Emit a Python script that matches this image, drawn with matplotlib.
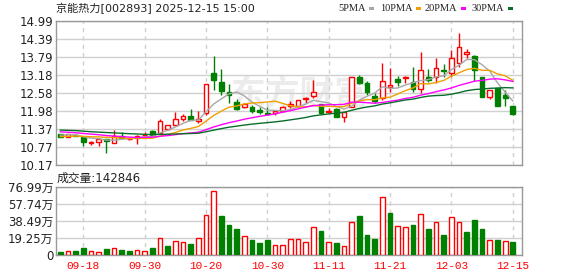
import matplotlib
matplotlib.use('Agg')
import matplotlib.pyplot as plt
from matplotlib.patches import Rectangle
import numpy as np
import pandas as pd

plt.rcParams['font.family'] = ['DejaVu Sans', 'Noto Sans CJK SC']

# 交易日 (2025-09-15 ~ 2025-12-15)
dates = ["09-15", "09-16", "09-17", "09-18", "09-19", "09-22", "09-23", "09-24", "09-25", "09-26",
         "09-29", "09-30", "10-09", "10-10", "10-13", "10-14", "10-15", "10-16", "10-17", "10-20",
         "10-21", "10-22", "10-23", "10-24", "10-27", "10-28", "10-29", "10-30", "10-31", "11-03",
         "11-04", "11-05", "11-06", "11-07", "11-10", "11-11", "11-12", "11-13", "11-14", "11-17",
         "11-18", "11-19", "11-20", "11-21", "11-24", "11-25", "11-26", "11-27", "11-28", "12-01",
         "12-02", "12-03", "12-04", "12-05", "12-08", "12-09", "12-10", "12-11", "12-12", "12-15"]
tick_dates = ["09-18", "09-30", "10-20", "10-30", "11-11", "11-21", "12-03", "12-15"]

opens = [11.21, 11.12, 11.18, 11.12, 10.90, 10.93, 11.03, 10.90, 11.13, 11.03,
         11.06, 11.17, 11.32, 11.23, 11.38, 11.52, 11.72, 11.80, 11.65, 11.92,
         13.24, 12.94, 12.61, 12.29, 12.12, 12.12, 12.01, 11.92, 11.90, 11.99,
         12.15, 12.14, 12.37, 12.47, 12.21, 11.95, 12.05, 11.79, 12.12, 13.12,
         12.93, 12.48, 12.40, 12.77, 13.04, 13.07, 12.94, 12.70, 13.13, 13.13,
         13.34, 13.24, 13.57, 13.87, 13.82, 13.10, 12.46, 12.74, 12.51, 12.14]
highs = [11.22, 11.21, 11.20, 11.15, 10.98, 11.04, 11.04, 11.34, 11.29, 11.10,
         11.16, 11.29, 11.33, 11.70, 11.52, 11.96, 11.87, 12.03, 11.99, 12.87,
         13.82, 13.38, 12.87, 12.37, 12.26, 12.18, 12.12, 12.12, 12.01, 12.13,
         12.32, 12.36, 12.46, 13.01, 12.22, 12.07, 12.08, 11.94, 13.12, 13.18,
         12.97, 12.59, 13.60, 13.43, 13.15, 13.16, 13.46, 13.96, 13.40, 13.75,
         13.55, 14.02, 14.60, 14.04, 13.85, 13.11, 12.69, 12.75, 12.68, 12.15]
lows = [11.11, 11.11, 11.13, 10.82, 10.84, 10.82, 10.58, 10.89, 11.06, 11.00,
        10.86, 11.10, 11.16, 11.21, 11.34, 11.50, 11.63, 11.67, 11.56, 11.84,
        12.68, 12.51, 12.23, 12.01, 12.07, 11.92, 11.88, 11.84, 11.84, 11.97,
        12.07, 12.12, 12.26, 12.40, 11.87, 11.90, 11.78, 11.62, 12.10, 12.88,
        12.51, 12.26, 12.35, 12.63, 12.80, 12.92, 12.63, 12.59, 12.94, 12.90,
        13.13, 13.10, 13.44, 13.74, 12.98, 12.45, 12.39, 12.16, 12.15, 11.84]
closes = [11.12, 11.20, 11.15, 10.93, 10.95, 11.03, 10.96, 11.14, 11.07, 11.05,
          11.15, 11.19, 11.18, 11.64, 11.50, 11.70, 11.80, 11.68, 11.70, 12.87,
          13.01, 12.66, 12.51, 12.03, 12.20, 11.98, 11.94, 11.89, 11.98, 12.12,
          12.20, 12.35, 12.40, 12.60, 11.90, 11.98, 11.79, 11.93, 13.12, 12.90,
          12.62, 12.32, 12.99, 12.85, 12.96, 13.12, 12.70, 13.35, 13.01, 13.41,
          13.31, 13.74, 14.11, 13.96, 13.35, 12.46, 12.68, 12.16, 12.40, 11.87]
# 窗口之前的收盘价(估计值, 仅用于均线起点)
prior_closes = [11.52, 11.40, 11.48, 11.55, 11.42, 11.38, 11.50, 11.46, 11.44, 11.45,
                11.50, 11.47, 11.41, 11.38, 11.45, 11.52, 11.48, 11.40, 11.42, 11.37,
                11.15, 11.05, 11.02, 11.08, 11.07, 11.12, 11.20, 11.22, 11.19]
# 成交量 (万)
volumes = [3.4, 4.2, 4.5, 7.9, 4.2, 3.0, 6.8, 7.5, 5.7, 4.5,
           5.3, 4.2, 7.9, 18.9, 10.2, 15.5, 14.3, 12.5, 18.9, 44.9,
           72.1, 44.2, 34.0, 29.4, 21.1, 17.0, 13.6, 17.0, 10.9, 10.9,
           18.1, 18.1, 14.7, 31.7, 27.2, 14.7, 13.6, 10.2, 37.4, 44.2,
           22.6, 18.1, 65.7, 47.5, 32.8, 31.7, 34.0, 46.0, 29.4, 37.4,
           22.6, 43.0, 37.4, 26.0, 39.6, 29.4, 16.6, 17.0, 15.8, 14.2846]

price_ticks = [10.17, 10.77, 11.37, 11.98, 12.58, 13.18, 13.79, 14.39, 14.99]
vol_ticks = [0, 19.25, 38.49, 57.74, 76.99]

ma_periods = [5, 10, 20, 30]
ma_colors = ['#a8a8a8', '#f0a000', '#ff00ff', '#0a6e2a']
RED = '#ff0000'
GREEN = '#008000'
GRID = '#d0d0d0'


def main():
    n = len(closes)
    x = np.arange(n)
    o = np.array(opens)
    c = np.array(closes)
    h = np.array(highs)
    l = np.array(lows)
    up = c >= o
    prev = np.concatenate([[prior_closes[-1]], c[:-1]])
    vol_up = c >= prev

    full = pd.Series(prior_closes + closes)

    fig = plt.figure(figsize=(5.78, 2.76), dpi=100)
    W, H = 578, 276
    ax = fig.add_axes([56 / W, 1 - 165 / H, 466 / W, 144 / H])
    axv = fig.add_axes([56 / W, 1 - 255 / H, 466 / W, 68 / H])

    tick_idx = [dates.index(d) for d in tick_dates]

    for a in (ax, axv):
        a.set_xlim(-0.56, n + 0.2)
        a.set_xticks(tick_idx)
        a.tick_params(length=0, labelsize=8.5, colors='#222222', pad=2)
        a.grid(axis='y', color=GRID, lw=1, ls='-', zorder=0)
        a.grid(axis='x', color=GRID, lw=1, ls=(0, (3, 3)), zorder=0)
        for s in a.spines.values():
            s.set_color('#999999')
            s.set_linewidth(1)
        a.set_axisbelow(True)

    # 水印
    ax.text(0.525, 0.49, '东方财富', transform=ax.transAxes, ha='center', va='center',
            fontsize=25, color='#ececec', fontweight='bold',
            family=['Noto Sans CJK SC'], zorder=0)

    # K线
    w = 0.62
    ax.vlines(x, l, h, colors=np.where(up, RED, GREEN), lw=1, zorder=2)
    body_lo = np.minimum(o, c)
    body_h = np.maximum(np.abs(c - o), 0.012)
    ax.bar(x[up], body_h[up], w, bottom=body_lo[up], facecolor='white',
           edgecolor=RED, lw=1, zorder=3)
    ax.bar(x[~up], body_h[~up], w, bottom=body_lo[~up], facecolor=GREEN,
           edgecolor=GREEN, lw=1, zorder=3)

    # 均线
    for p, col in zip(ma_periods, ma_colors):
        ma = full.rolling(p).mean().to_numpy()[len(prior_closes):]
        ax.plot(x, ma, color=col, lw=1, zorder=4)

    ax.set_ylim(price_ticks[0], price_ticks[-1])
    ax.set_yticks(price_ticks)
    ax.set_yticklabels([f'{t:.2f}' for t in price_ticks])
    ax.set_xticklabels([])

    # 成交量
    v = np.array(volumes)
    axv.bar(x[vol_up], v[vol_up], w, facecolor='white', edgecolor=RED, lw=1, zorder=3)
    axv.bar(x[~vol_up], v[~vol_up], w, facecolor=GREEN, edgecolor=GREEN, lw=1, zorder=3)
    axv.set_ylim(0, vol_ticks[-1])
    axv.set_yticks(vol_ticks)
    axv.set_yticklabels(['0'] + [f'{t:.2f}万' for t in vol_ticks[1:]])
    axv.set_xticklabels(tick_dates, color=RED, family='Liberation Mono', fontsize=8)
    axv.tick_params(axis='x', pad=4)

    # 标题与图例
    fig.text(56 / W, 1 - 8.5 / H, '京能热力[002893] 2025-12-15 15:00', ha='left', va='center',
             fontsize=8, color='#222222')
    fig.text(57 / W, 1 - 178 / H, f'成交量:{int(round(volumes[-1] * 1e4))}', ha='left',
             va='center', fontsize=8.5, color='#222222')
    leg_x = [338, 380, 425, 472]
    for lx, p, col in zip(leg_x, ma_periods, ma_colors):
        t = fig.text(lx / W, 1 - 8.5 / H, f'{p}PMA', ha='left', va='center',
                     fontsize=7.5, family='Liberation Serif', color='#222222')
        fig.canvas.draw()
        bb = t.get_window_extent()
        fig.patches.append(Rectangle(((bb.x1 + 3) / W, 1 - 10 / H), 5 / W, 3 / H,
                                     transform=fig.transFigure, facecolor=col,
                                     edgecolor='none'))

    fig.savefig('out.png', dpi=100)
    plt.close(fig)


if __name__ == '__main__':
    main()
